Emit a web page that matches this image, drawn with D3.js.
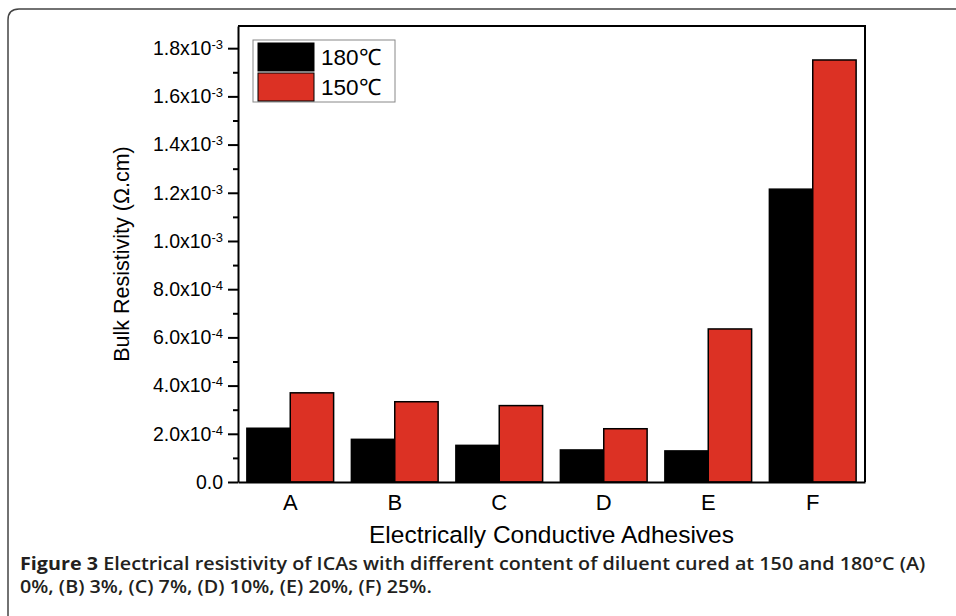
<!DOCTYPE html>
<html>
<head>
<meta charset="utf-8">
<script src="https://cdn.jsdelivr.net/npm/d3@7"></script>
<style>
  body { margin: 0; background: #fff; }
  svg { display: block; }
  .axis path, .axis line { stroke: #000; stroke-width: 2; }
  .axis text { font-family: "Liberation Sans", Arial, sans-serif; fill: #000; }
</style>
</head>
<body>
<div id="chart"></div>
<script>
// data
var categories = ["A", "B", "C", "D", "E", "F"];
var series = ["180\u2103", "150\u2103"];
var values180 = [2.23e-4, 1.77e-4, 1.52e-4, 1.33e-4, 1.29e-4, 1.215e-3];
var values150 = [3.70e-4, 3.33e-4, 3.17e-4, 2.21e-4, 6.35e-4, 1.751e-3];
var yTicks = [0, 2e-4, 4e-4, 6e-4, 8e-4, 1e-3, 1.2e-3, 1.4e-3, 1.6e-3, 1.8e-3];
var yMinorTicks = [1e-4, 3e-4, 5e-4, 7e-4, 9e-4, 1.1e-3, 1.3e-3, 1.5e-3, 1.7e-3];
var colors = ["#000000", "#dc3124"];

var W = 956, H = 616;
var margin = { left: 238, right: 865, top: 26, bottom: 482 };

var svg = d3.select("#chart").append("svg")
  .attr("width", W)
  .attr("height", H);

// outer frame (top and left edge with rounded corner)
svg.append("path")
  .attr("d", "M8,616 V20 Q8,9 19,9 H956")
  .attr("fill", "none")
  .attr("stroke", "#444")
  .attr("stroke-width", 1.5);

var x = d3.scaleBand()
  .domain(categories)
  .range([margin.left, margin.right])
  .paddingInner(0.17)
  .paddingOuter(0.085);

var xs = d3.scaleBand()
  .domain(series)
  .range([0, x.bandwidth()]);

var y = d3.scaleLinear()
  .domain([0, 1.892e-3])
  .range([margin.bottom, margin.top]);

var data = categories.map(function(c, i) {
  return { category: c, vals: [values180[i], values150[i]] };
});

// bars
var groups = svg.selectAll(".grp")
  .data(data)
  .enter()
  .append("g")
  .attr("class", "grp")
  .attr("transform", d => "translate(" + x(d.category) + ",0)");

groups.selectAll("rect")
  .data(d => d.vals.map((v, j) => ({ s: series[j], v: v, j: j })))
  .enter()
  .append("rect")
  .attr("x", d => xs(d.s))
  .attr("width", xs.bandwidth())
  .attr("y", d => y(d.v))
  .attr("height", d => margin.bottom - y(d.v))
  .attr("fill", d => colors[d.j])
  .attr("stroke", "#000")
  .attr("stroke-width", 1.5);

// plot box: top and right
svg.append("path")
  .attr("d", "M" + margin.left + "," + margin.top + " H" + margin.right + " V" + margin.bottom)
  .attr("fill", "none")
  .attr("stroke", "#000")
  .attr("stroke-width", 2);

// y axis, labels like 1.8x10^-3
function supFmt(sel) {
  sel.each(function(d) {
    var t = d3.select(this);
    t.text(null);
    if (d === 0) { t.text("0.0"); return; }
    var e = Math.round(Math.log10(d) - 0.5);
    var m = d / Math.pow(10, e);
    t.append("tspan").text(m.toFixed(1) + "x10");
    t.append("tspan").attr("dy", "-0.45em").attr("font-size", "13px").text(e);
  });
}

var yAxis = svg.append("g")
  .attr("class", "axis")
  .attr("transform", "translate(" + margin.left + ",0)")
  .call(d3.axisLeft(y).tickValues(yTicks).tickSize(10).tickPadding(5).tickSizeOuter(0));
yAxis.selectAll("text")
  .attr("font-size", "19.5px")
  .call(supFmt);

svg.append("g")
  .attr("class", "axis")
  .attr("transform", "translate(" + margin.left + ",0)")
  .call(d3.axisLeft(y).tickValues(yMinorTicks).tickSize(5).tickFormat("").tickSizeOuter(0))
  .select(".domain").remove();

// x axis
var xAxis = svg.append("g")
  .attr("class", "axis")
  .attr("transform", "translate(0," + margin.bottom + ")")
  .call(d3.axisBottom(x).tickSize(0).tickPadding(12).tickSizeOuter(0));
xAxis.selectAll("text").attr("font-size", "22px");

// axis titles
svg.append("text")
  .attr("transform", "translate(129," + (margin.top + margin.bottom) / 2 + ") rotate(-90)")
  .attr("text-anchor", "middle")
  .attr("font-family", "Liberation Sans, Arial, sans-serif")
  .attr("font-size", "21.5px")
  .text("Bulk Resistivity (\u03A9.cm)");

svg.append("text")
  .attr("x", (margin.left + margin.right) / 2)
  .attr("y", 543)
  .attr("text-anchor", "middle")
  .attr("font-family", "Liberation Sans, Arial, sans-serif")
  .attr("font-size", "24.5px")
  .text("Electrically Conductive Adhesives");

// legend
var lg = svg.append("g").attr("transform", "translate(253,40)");
lg.append("rect")
  .attr("width", 142).attr("height", 62)
  .attr("fill", "#fff")
  .attr("stroke", "#888")
  .attr("stroke-width", 1);
series.forEach(function(s, i) {
  lg.append("rect")
    .attr("x", 5).attr("y", 3 + i * 30)
    .attr("width", 56).attr("height", 28)
    .attr("fill", colors[i])
    .attr("stroke", "#000")
    .attr("stroke-width", 1);
  lg.append("text")
    .attr("x", 68).attr("y", 25 + i * 30)
    .attr("font-family", "Liberation Sans, Arial, sans-serif")
    .attr("font-size", "22.5px")
    .text(s);
});

// caption: semibold sans, squeezed horizontally to look condensed
var cap = [
  ["Figure 3", " Electrical resistivity of ICAs with different content of diluent cured at 150 and 180\u00B0C (A)"],
  ["", "0%, (B) 3%, (C) 7%, (D) 10%, (E) 20%, (F) 25%."]
];
var capSx = 1;
cap.forEach(function(line, i) {
  var t = svg.append("text")
    .attr("x", 0)
    .attr("y", 0)
    .attr("font-family", "Open Sans, sans-serif")
    .attr("font-size", "17.5px")
    .attr("fill", "#231f20");
  if (line[0]) t.append("tspan").attr("font-weight", 700).text(line[0]);
  t.append("tspan").attr("font-weight", 600).text(line[1]);
  if (i === 0) capSx = 906 / t.node().getComputedTextLength();
  t.attr("transform", "translate(20," + (570 + i * 23) + ") scale(" + capSx + ",1)");
});
</script>
</body>
</html>
